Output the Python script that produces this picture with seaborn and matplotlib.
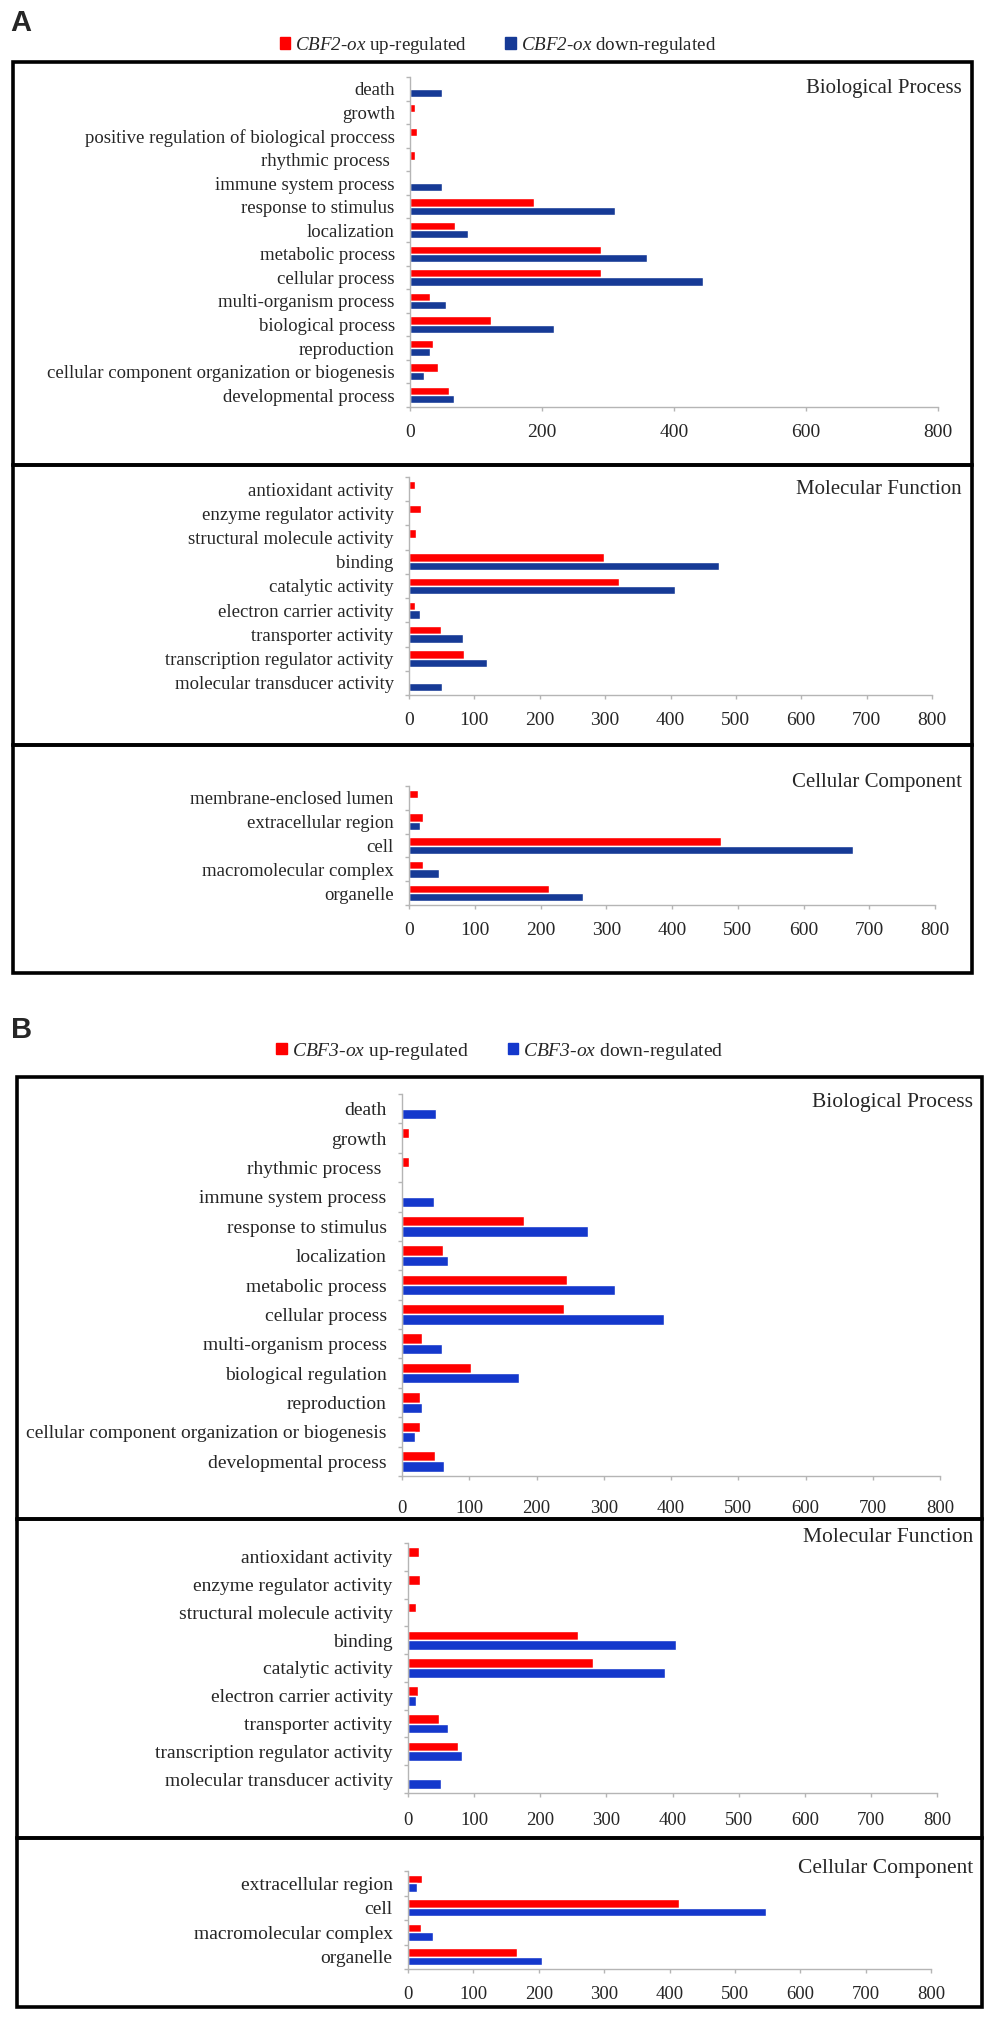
import matplotlib.pyplot as plt
from matplotlib.patches import Rectangle, Patch
import pandas as pd
import seaborn as sns

# GO terms, top to bottom, with gene counts
a_bp_terms = ['death', 'growth', 'positive regulation of biological proccess', 'rhythmic process ',
              'immune system process', 'response to stimulus', 'localization', 'metabolic process',
              'cellular process', 'multi-organism process', 'biological process', 'reproduction',
              'cellular component organization or biogenesis', 'developmental process']
a_bp_up = [0, 8, 10, 8, 0, 188, 68, 289, 290, 31, 122, 35, 43, 59]
a_bp_down = [48, 0, 0, 0, 48, 310, 88, 359, 444, 54, 218, 30, 21, 67]

a_mf_terms = ['antioxidant activity', 'enzyme regulator activity', 'structural molecule activity',
              'binding', 'catalytic activity', 'electron carrier activity', 'transporter activity',
              'transcription regulator activity', 'molecular transducer activity']
a_mf_up = [9, 19, 11, 298, 321, 9, 49, 84, 0]
a_mf_down = [0, 0, 0, 474, 407, 17, 82, 119, 51]

a_cc_terms = ['membrane-enclosed lumen', 'extracellular region', 'cell', 'macromolecular complex', 'organelle']
a_cc_up = [14, 22, 475, 21, 213]
a_cc_down = [0, 17, 675, 45, 265]

b_bp_terms = ['death', 'growth', 'rhythmic process ', 'immune system process', 'response to stimulus',
              'localization', 'metabolic process', 'cellular process', 'multi-organism process',
              'biological regulation', 'reproduction', 'cellular component organization or biogenesis',
              'developmental process']
b_bp_up = [0, 11, 11, 0, 182, 61, 246, 241, 30, 102, 27, 27, 49]
b_bp_down = [50, 0, 0, 47, 277, 68, 316, 389, 60, 174, 30, 19, 62]

b_mf_terms = a_mf_terms
b_mf_up = [17, 18, 12, 257, 280, 15, 47, 76, 0]
b_mf_down = [0, 0, 0, 405, 389, 12, 61, 82, 50]

b_cc_terms = ['extracellular region', 'cell', 'macromolecular complex', 'organelle']
b_cc_up = [22, 415, 20, 167]
b_cc_down = [14, 547, 38, 205]

RED = '#ff0000'
BLUE_A = '#163a96'
BLUE_B = '#1438cc'
GRAY = '#b5b5b5'

sns.set_theme(style='white')
plt.rcParams['font.family'] = ['Liberation Serif', 'DejaVu Serif']
plt.rcParams['mathtext.fontset'] = 'custom'
plt.rcParams['mathtext.it'] = 'Liberation Serif:italic'
plt.rcParams['mathtext.rm'] = 'Liberation Serif:italic'

W, H = 1000, 2018
fig = plt.figure(figsize=(W / 100, H / 100), dpi=100)


def box(x0, x1, y0, y1):
    fig.add_artist(Rectangle((x0 / W, 1 - y1 / H), (x1 - x0) / W, (y1 - y0) / H,
                             transform=fig.transFigure, fill=False, lw=2.6, ec='black'))


def go_panel(rect, terms, up, down, blue, step, title, title_xy, fs, tfs, xpad):
    x0, x1, y0, y1 = rect
    ax = fig.add_axes([x0 / W, 1 - y1 / H, (x1 - x0) / W, (y1 - y0) / H])
    df = pd.DataFrame({'term': terms * 2,
                       'count': up + down,
                       'set': ['up'] * len(terms) + ['down'] * len(terms)})
    sns.barplot(data=df, y='term', x='count', hue='set', order=terms, hue_order=['up', 'down'],
                palette=[RED, blue], orient='h', width=0.7, saturation=1, errorbar=None,
                legend=False, ax=ax)
    n = len(terms)
    ax.set_xlim(0, 800)
    ax.set_ylim(n - 0.5, -0.5)
    ax.set_xticks(range(0, 801, step))
    ax.set_yticks(range(n))
    ax.set_yticklabels(terms)
    ax.set_yticks([k - 0.5 for k in range(n + 1)], minor=True)
    ax.set_xlabel('')
    ax.set_ylabel('')
    ax.tick_params(axis='y', which='major', left=False, length=0, pad=11, labelsize=fs)
    ax.tick_params(axis='y', which='minor', left=True, length=3, color=GRAY, width=1)
    ax.tick_params(axis='x', bottom=True, length=3, color=GRAY, width=1, pad=xpad, labelsize=tfs)
    for s in ['top', 'right']:
        ax.spines[s].set_visible(False)
    for s in ['left', 'bottom']:
        ax.spines[s].set_color(GRAY)
        ax.spines[s].set_linewidth(1)
    fig.text(title_xy[0] / W, 1 - title_xy[1] / H, title, ha='right', va='center',
             fontsize=fs + 1.5)
    return ax


def legend(name, blue, cx, cy, fs):
    labels = [r'$' + name + r'$-$ox$ up-regulated',
              r'$' + name + r'$-$ox$ down-regulated']
    fig.legend(handles=[Patch(color=RED), Patch(color=blue)], labels=labels, loc='center',
               bbox_to_anchor=(cx / W, 1 - cy / H), ncol=2, frameon=False, fontsize=fs,
               handlelength=0.55, handleheight=0.55, handletextpad=0.25, columnspacing=2.0)


# panel A
fig.text(10 / W, 1 - 23 / H, 'A', family='Liberation Sans', fontweight='bold', fontsize=21, va='center')
legend('CBF2', BLUE_A, 498, 45, 13.7)
box(13, 972, 62, 465)
box(13, 972, 465, 745)
box(13, 972, 745, 973)
go_panel((410, 938, 77, 407), a_bp_terms, a_bp_up, a_bp_down, BLUE_A, 200,
         'Biological Process', (962, 88), 13.5, 14, 9)
go_panel((409, 932, 477, 695), a_mf_terms, a_mf_up, a_mf_down, BLUE_A, 100,
         'Molecular Function', (962, 490), 13.5, 14, 9)
go_panel((409, 935, 786, 905), a_cc_terms, a_cc_up, a_cc_down, BLUE_A, 100,
         'Cellular Component', (962, 782), 13.5, 14, 9)

# panel B
fig.text(11 / W, 1 - 1030 / H, 'B', family='Liberation Sans', fontweight='bold', fontsize=21, va='center')
legend('CBF3', BLUE_B, 500, 1051, 14)
box(17, 982, 1077, 1519)
box(17, 982, 1519, 1838)
box(17, 982, 1838, 2007)
go_panel((402, 940, 1094, 1476), b_bp_terms, b_bp_up, b_bp_down, BLUE_B, 100,
         'Biological Process', (973, 1103), 14, 13.5, 14)
go_panel((408, 937, 1543, 1793), b_mf_terms, b_mf_up, b_mf_down, BLUE_B, 100,
         'Molecular Function', (973, 1537), 14, 13.5, 11)
go_panel((408, 931, 1871, 1969), b_cc_terms, b_cc_up, b_cc_down, BLUE_B, 100,
         'Cellular Component', (973, 1868), 14, 13.5, 9)

fig.savefig('out.png', dpi=100)
